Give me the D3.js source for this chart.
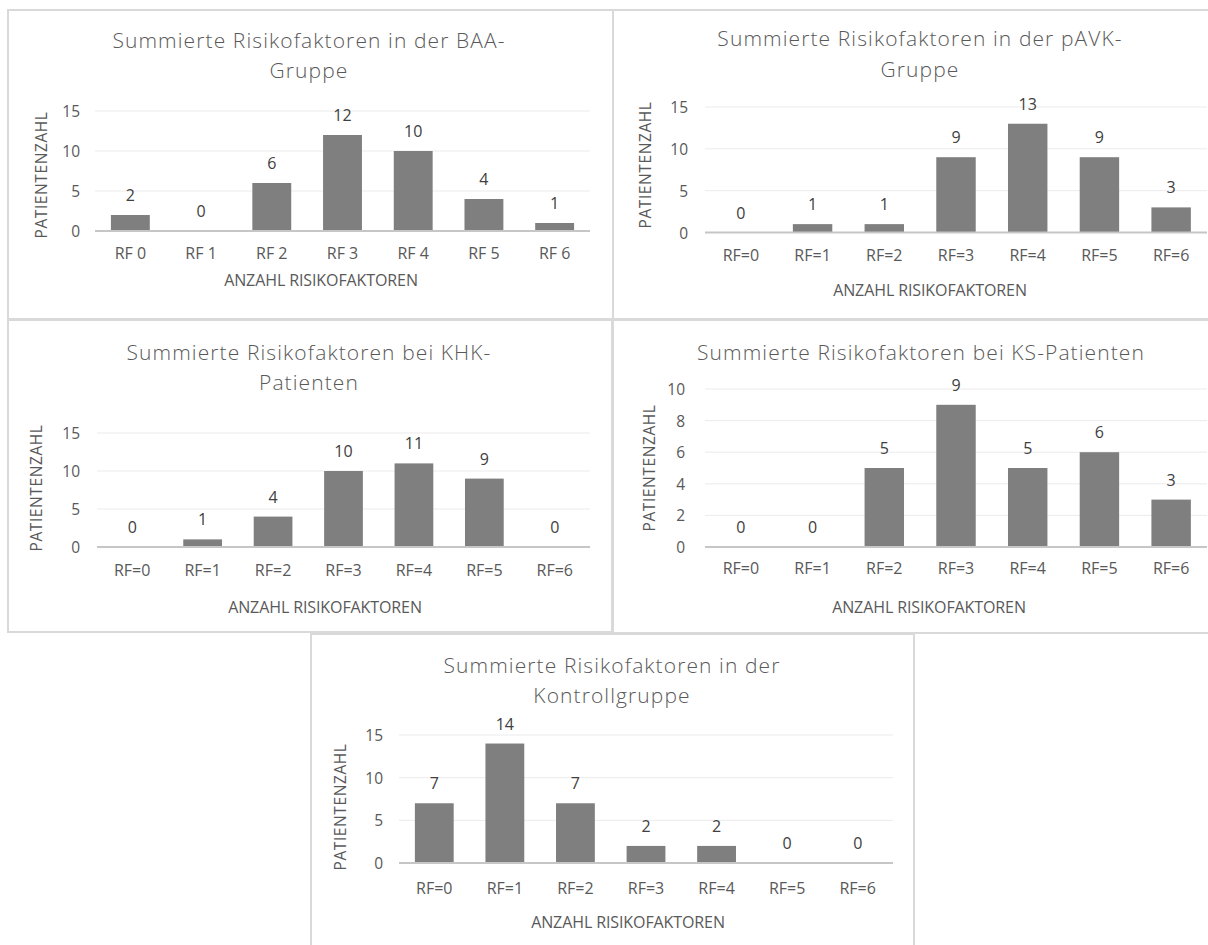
<!DOCTYPE html>
<html>
<head>
<meta charset="utf-8">
<script src="https://cdn.jsdelivr.net/npm/d3@7"></script>
<style>
  html, body { margin: 0; padding: 0; background: #fff; }
  svg { display: block; }
  text { font-family: "Open Sans", "Noto Sans", sans-serif; }
</style>
</head>
<body>
<svg id="chart" width="1208" height="945"></svg>
<script>
// Category labels
const catsSpace = ["RF 0", "RF 1", "RF 2", "RF 3", "RF 4", "RF 5", "RF 6"];
const catsEq = ["RF=0", "RF=1", "RF=2", "RF=3", "RF=4", "RF=5", "RF=6"];

// Patient counts per number of risk factors
const valuesBAA = [2, 0, 6, 12, 10, 4, 1];
const valuesPAVK = [0, 1, 1, 9, 13, 9, 3];
const valuesKHK = [0, 1, 4, 10, 11, 9, 0];
const valuesKS = [0, 0, 5, 9, 5, 6, 3];
const valuesKontrolle = [7, 14, 7, 2, 2, 0, 0];

// Y-axis tick values
const ticks15 = [0, 5, 10, 15];
const ticks10 = [0, 2, 4, 6, 8, 10];

// Titles
const titleBAA = ["Summierte Risikofaktoren in der BAA-", "Gruppe"];
const titlePAVK = ["Summierte Risikofaktoren in der pAVK-", "Gruppe"];
const titleKHK = ["Summierte Risikofaktoren bei KHK-", "Patienten"];
const titleKS = ["Summierte Risikofaktoren bei KS-Patienten"];
const titleKontrolle = ["Summierte Risikofaktoren in der", "Kontrollgruppe"];

const xAxisTitle = "ANZAHL RISIKOFAKTOREN";
const yAxisTitle = "PATIENTENZAHL";

// Panel layout (frame, plot area and text positions)
const panels = [
  { frame: [8, 10, 605, 309], cats: catsSpace, values: valuesBAA, ticks: ticks15,
    title: titleBAA, titleX: 309, titleY: [40, 70],
    x0: 95, x1: 590, yTop: 111, yBase: 231, tickRight: 80,
    labelY: 253, axisTitleX: 321, axisTitleY: 280, yTitleX: 41, yTitleY: 175 },
  { frame: [613, 10, 600, 309], cats: catsEq, values: valuesPAVK, ticks: ticks15,
    title: titlePAVK, titleX: 920, titleY: [38, 69],
    x0: 705, x1: 1207, yTop: 107, yBase: 232.5, tickRight: 688,
    labelY: 255, axisTitleX: 930, axisTitleY: 290, yTitleX: 645, yTitleY: 165 },
  { frame: [8, 320, 604, 312], cats: catsEq, values: valuesKHK, ticks: ticks15,
    title: titleKHK, titleX: 309, titleY: [352, 382],
    x0: 97, x1: 590, yTop: 433, yBase: 547, tickRight: 80,
    labelY: 570, axisTitleX: 325, axisTitleY: 607, yTitleX: 36, yTitleY: 488 },
  { frame: [613, 320, 600, 313], cats: catsEq, values: valuesKS, ticks: ticks10,
    title: titleKS, titleX: 921, titleY: [352],
    x0: 705, x1: 1207, yTop: 389, yBase: 547, tickRight: 685,
    labelY: 568, axisTitleX: 929, axisTitleY: 607, yTitleX: 649, yTitleY: 468 },
  { frame: [311, 634, 603, 320], cats: catsEq, values: valuesKontrolle, ticks: ticks15,
    title: titleKontrolle, titleX: 612, titleY: [665, 695],
    x0: 399, x1: 893, yTop: 735, yBase: 863, tickRight: 383,
    labelY: 888, axisTitleX: 628, axisTitleY: 922, yTitleX: 340, yTitleY: 807 }
];

const svg = d3.select("#chart");

panels.forEach(p => {
  const g = svg.append("g");

  // chart frame
  g.append("rect")
    .attr("x", p.frame[0]).attr("y", p.frame[1])
    .attr("width", p.frame[2]).attr("height", p.frame[3])
    .attr("fill", "#fff").attr("stroke", "#d9d9d9").attr("stroke-width", 2);

  const x = d3.scaleBand().domain(p.cats).range([p.x0, p.x1])
    .paddingInner(0.45).paddingOuter(0.225);
  const yMax = d3.max(p.ticks);
  const y = d3.scaleLinear().domain([0, yMax]).range([p.yBase, p.yTop]);

  // horizontal gridlines
  g.selectAll(".grid").data(p.ticks.filter(t => t > 0)).join("line")
    .attr("x1", p.x0).attr("x2", p.x1)
    .attr("y1", d => y(d)).attr("y2", d => y(d))
    .attr("stroke", "#ebebeb").attr("stroke-width", 1);

  // y tick labels
  g.selectAll(".ytick").data(p.ticks).join("text")
    .attr("x", p.tickRight).attr("y", d => y(d))
    .attr("text-anchor", "end").attr("dominant-baseline", "central")
    .attr("font-size", 15.5).attr("fill", "#595959")
    .text(d => d);

  // bars
  g.selectAll(".bar").data(p.values).join("rect")
    .attr("x", (d, i) => x(p.cats[i]))
    .attr("y", d => y(d))
    .attr("width", x.bandwidth())
    .attr("height", d => y(0) - y(d))
    .attr("fill", "#7f7f7f");

  // category axis line
  g.append("line")
    .attr("x1", p.x0).attr("x2", p.x1)
    .attr("y1", y(0)).attr("y2", y(0))
    .attr("stroke", "#c6c6c6").attr("stroke-width", 2);

  // value labels
  g.selectAll(".val").data(p.values).join("text")
    .attr("x", (d, i) => x(p.cats[i]) + x.bandwidth() / 2)
    .attr("y", d => y(d) - 20)
    .attr("text-anchor", "middle").attr("dominant-baseline", "central")
    .attr("font-size", 16).attr("fill", "#404040")
    .text(d => d);

  // category labels
  g.selectAll(".cat").data(p.cats).join("text")
    .attr("x", d => x(d) + x.bandwidth() / 2)
    .attr("y", p.labelY)
    .attr("text-anchor", "middle").attr("dominant-baseline", "central")
    .attr("font-size", 16).attr("fill", "#595959")
    .text(d => d);

  // title
  g.selectAll(".title").data(p.title).join("text")
    .attr("x", p.titleX).attr("y", (d, i) => p.titleY[i])
    .attr("text-anchor", "middle").attr("dominant-baseline", "central")
    .attr("font-size", 21).attr("font-weight", 300).attr("fill", "#595959")
    .attr("letter-spacing", 1.1)
    .text(d => d);

  // x axis title
  g.append("text")
    .attr("x", p.axisTitleX).attr("y", p.axisTitleY)
    .attr("text-anchor", "middle").attr("dominant-baseline", "central")
    .attr("font-size", 16).attr("fill", "#595959")
    .attr("letter-spacing", -0.1)
    .text(xAxisTitle);

  // y axis title
  g.append("text")
    .attr("transform", `translate(${p.yTitleX},${p.yTitleY}) rotate(-90)`)
    .attr("text-anchor", "middle").attr("dominant-baseline", "central")
    .attr("font-size", 15.5).attr("fill", "#595959")
    .attr("letter-spacing", 0.6)
    .text(yAxisTitle);
});
</script>
</body>
</html>
